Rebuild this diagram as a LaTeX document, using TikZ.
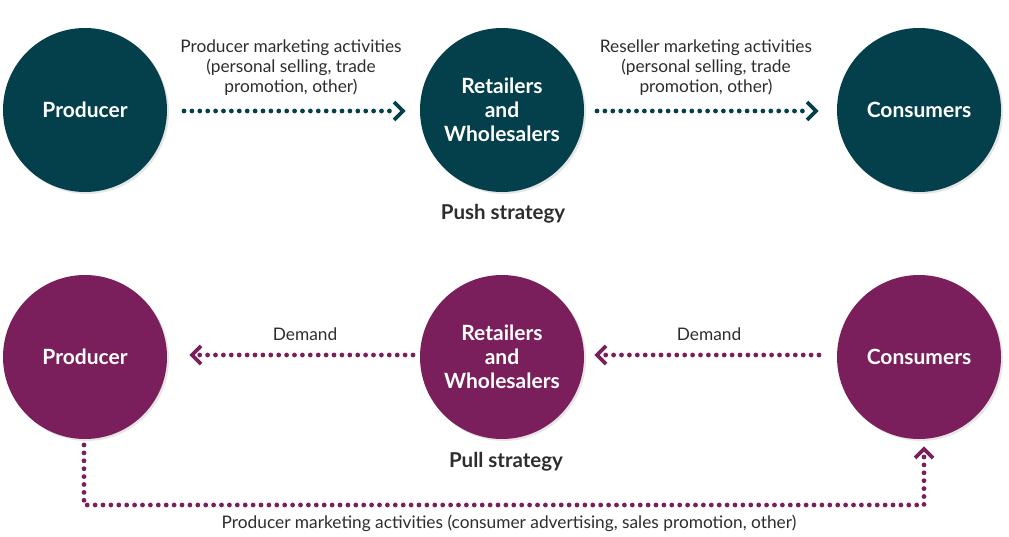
\documentclass[tikz,border=0pt]{standalone}
\usepackage{fontspec}
\setmainfont{Lato}
\usetikzlibrary{shadows}
\definecolor{pushc}{RGB}{4,64,75}
\definecolor{pullc}{RGB}{122,31,91}
\definecolor{txt}{RGB}{45,45,45}
\tikzset{
  circ/.style={circle, minimum size=164pt, inner sep=0pt, align=center, text=white,
    font=\fontsize{21}{24}\selectfont\bfseries,
    drop shadow={opacity=0.2, shadow xshift=2pt, shadow yshift=-2pt}},
  pushcirc/.style={circ, fill=pushc},
  pullcirc/.style={circ, fill=pullc},
  dotline/.style={line width=4.8pt, line cap=round, dash pattern=on 0pt off 7.9pt},
  chev/.style={line width=3.8pt, line cap=butt, line join=miter},
  lbl/.style={text=txt, align=center, font=\fontsize{17.3}{20}\selectfont},
  title/.style={text=txt, font=\fontsize{20.5}{22}\selectfont\bfseries}
}
\begin{document}
\begin{tikzpicture}[x=1pt,y=-1pt]
\useasboundingbox (0,0) rectangle (1009,537);
% push
\node[pushcirc] (p1) at (85,110) {Producer};
\node[pushcirc] (r1) at (502,110) {Retailers\\and\\Wholesalers};
\node[pushcirc] (c1) at (919,110) {Consumers};
\coordinate (a1s) at (184,111);
\coordinate (a1e) at (403,111);
\coordinate (a2s) at (597,111);
\coordinate (a2e) at (816,111);
\draw[pushc, dotline] (a1s) -- ([xshift=-6pt]a1e);
\draw[pushc, chev] ([shift={(-9pt,-9pt)}]a1e) -- (a1e) -- ([shift={(-9pt,9pt)}]a1e);
\draw[pushc, dotline] (a2s) -- ([xshift=-6pt]a2e);
\draw[pushc, chev] ([shift={(-9pt,-9pt)}]a2e) -- (a2e) -- ([shift={(-9pt,9pt)}]a2e);
\node[lbl] (t1) at (291,68) {Producer marketing activities\\(personal selling, trade\\promotion, other)};
\node[lbl] (t2) at (706,68) {Reseller marketing activities\\(personal selling, trade\\promotion, other)};
\node[title] (push) at (503,214) {Push strategy};
% pull
\node[pullcirc] (p2) at (85,357) {Producer};
\node[pullcirc] (r2) at (502,357) {Retailers\\and\\Wholesalers};
\node[pullcirc] (c2) at (919,357) {Consumers};
\coordinate (b1s) at (413,355);
\coordinate (b1e) at (192,355);
\coordinate (b2s) at (819,355);
\coordinate (b2e) at (597,355);
\draw[pullc, dotline] (b1s) -- ([xshift=6pt]b1e);
\draw[pullc, chev] ([shift={(9pt,-9pt)}]b1e) -- (b1e) -- ([shift={(9pt,9pt)}]b1e);
\draw[pullc, dotline] (b2s) -- ([xshift=6pt]b2e);
\draw[pullc, chev] ([shift={(9pt,-9pt)}]b2e) -- (b2e) -- ([shift={(9pt,9pt)}]b2e);
\node[lbl] (d1) at (305,334) {Demand};
\node[lbl] (d2) at (709,334) {Demand};
\node[title] (pull) at (506,462) {Pull strategy};
\coordinate (l1) at (84,445);
\coordinate (l2) at (84,505);
\coordinate (l3) at (924,505);
\coordinate (l4) at (924,449);
\draw[pullc, dotline] (l1) -- (l2) -- (l3) -- ([yshift=-6pt]l4);
\draw[pullc, chev] ([shift={(-9pt,-9pt)}]l4) -- (l4) -- ([shift={(9pt,-9pt)}]l4);
\node[lbl] (t3) at (509,523) {Producer marketing activities (consumer advertising, sales promotion, other)};
\end{tikzpicture}
\end{document}
